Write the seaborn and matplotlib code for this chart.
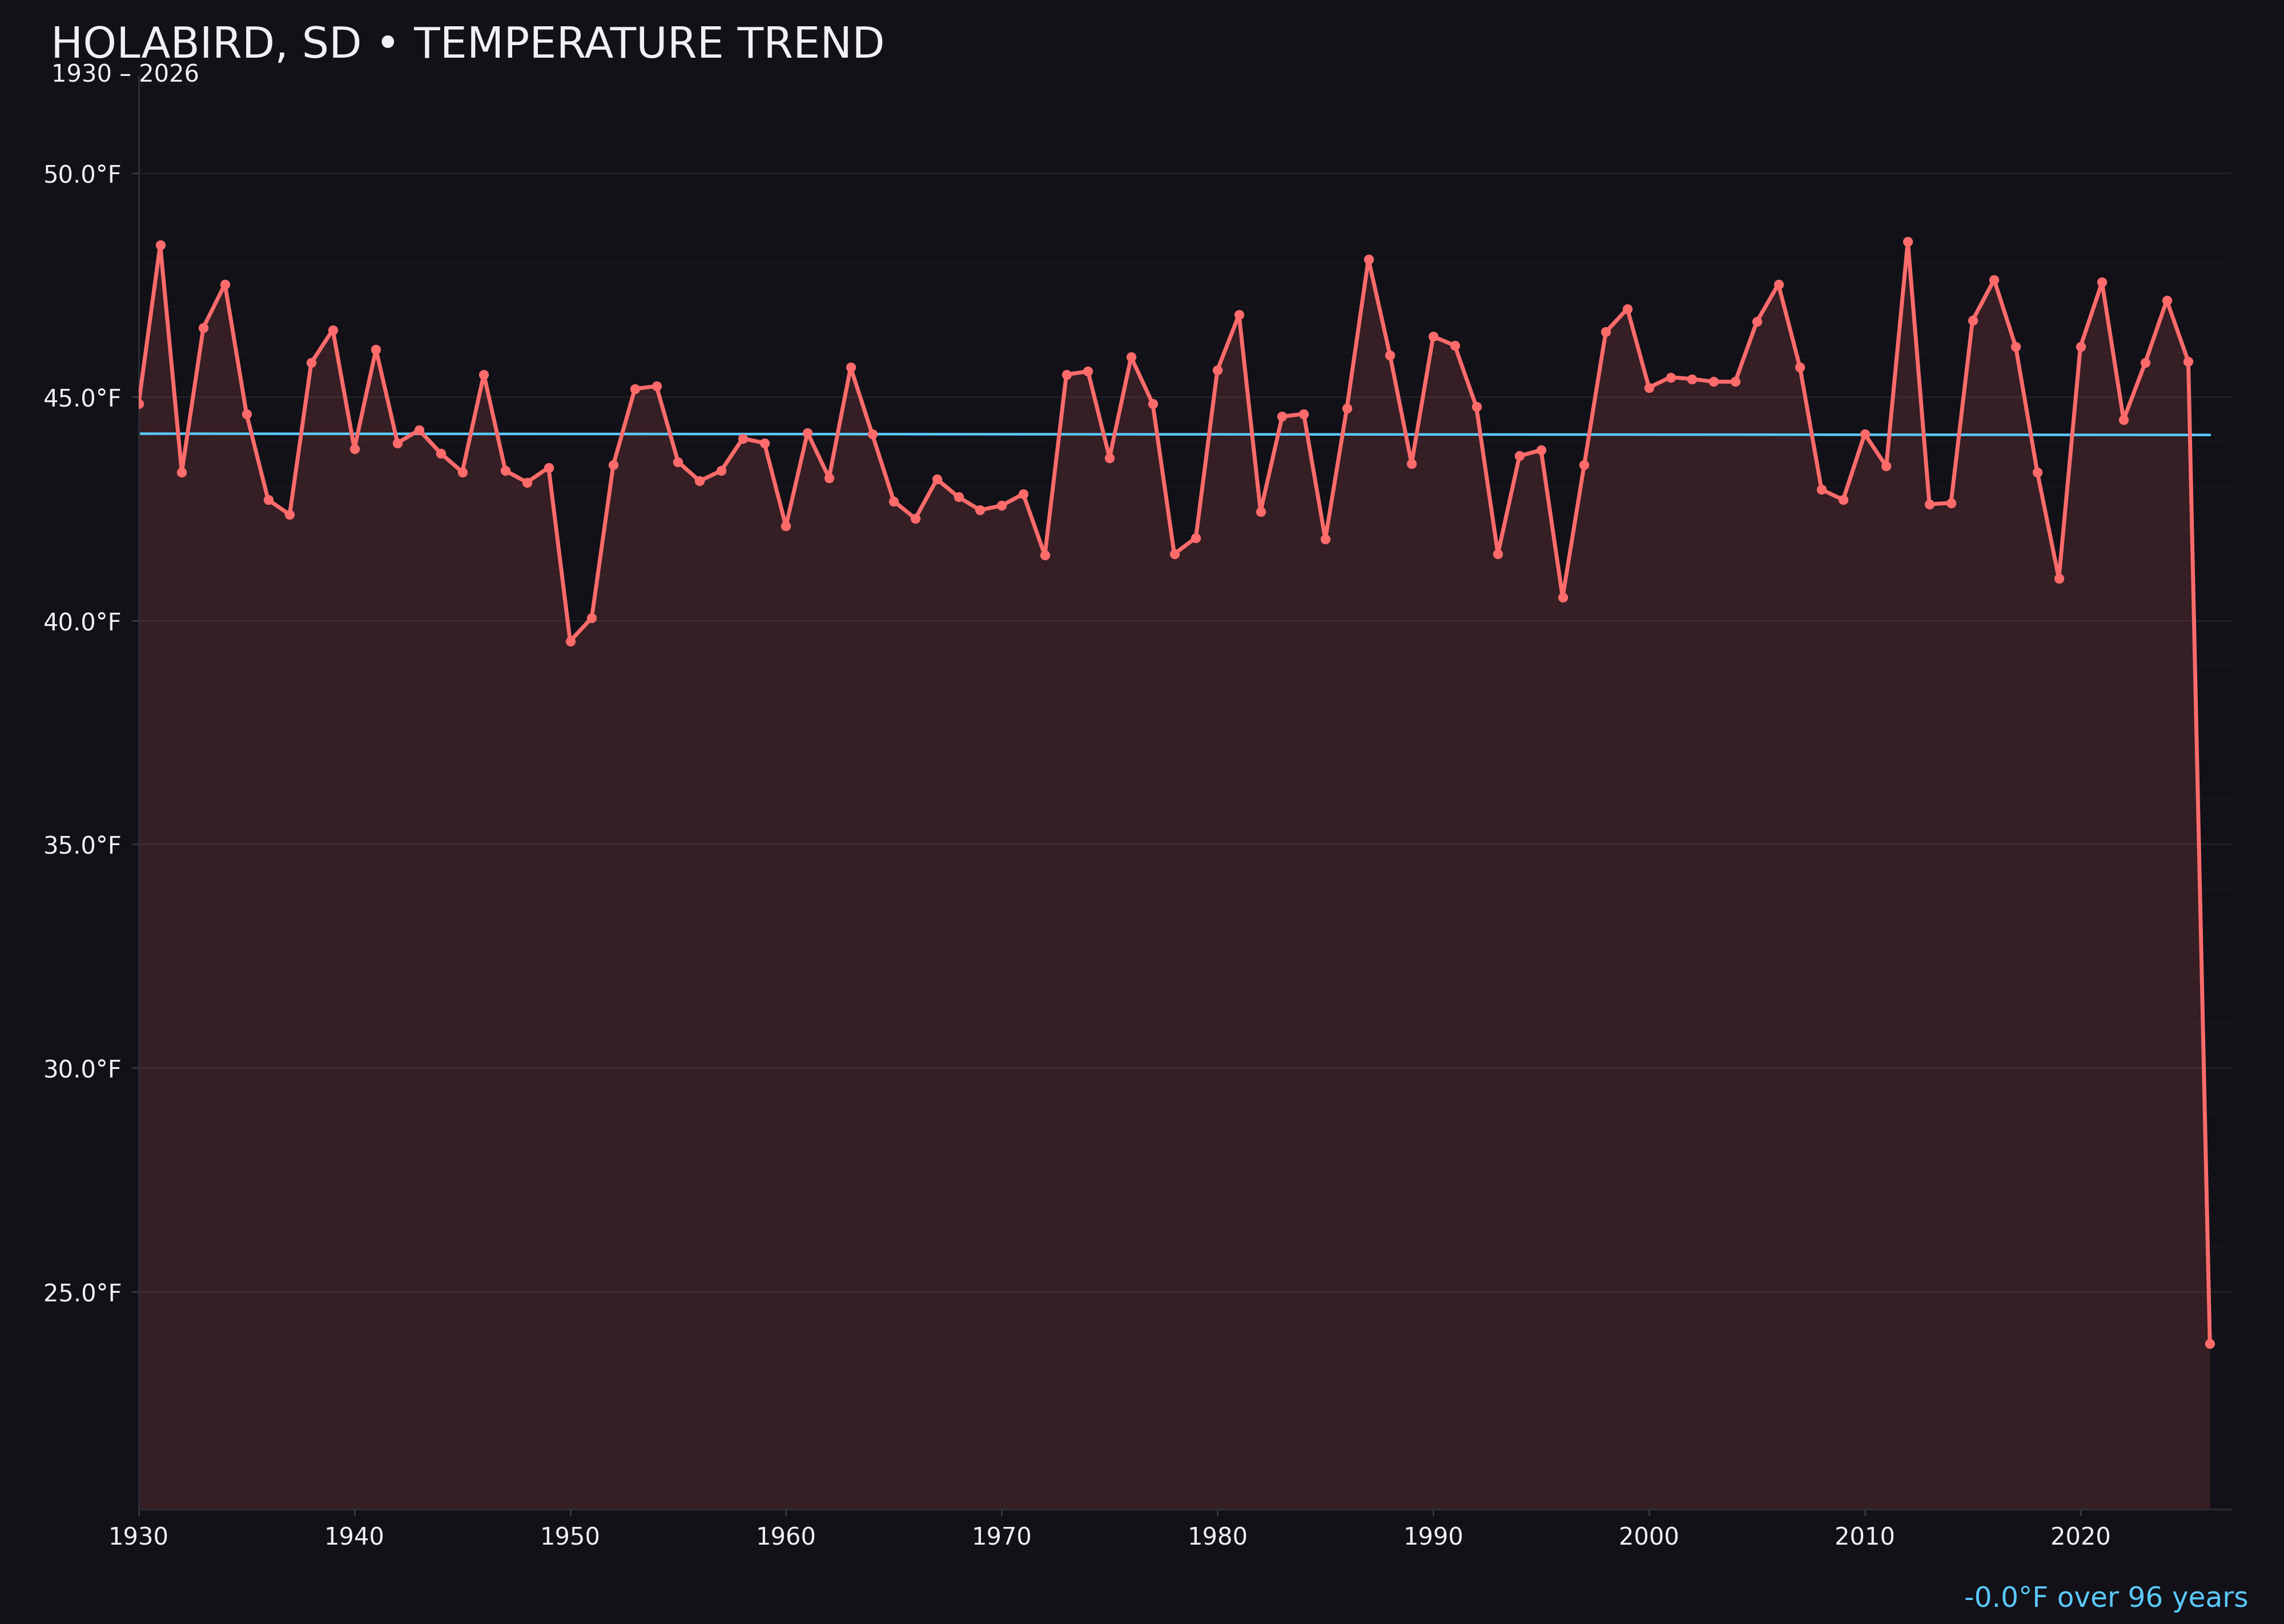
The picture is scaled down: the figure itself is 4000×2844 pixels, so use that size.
import matplotlib
matplotlib.use("Agg")
import matplotlib.pyplot as plt
import matplotlib.ticker as ticker
import seaborn as sns
import pandas as pd
import numpy as np

bg_color    = "#121118"
line_color  = "#ff6b6b"
trend_color = "#5ac8fa"
text_color  = "#f0f0f5"

years = list(range(1930, 2027))
temps = [44.85, 48.40, 43.32, 46.55, 47.52, 44.62, 42.70, 42.37, 45.76, 46.50,
         43.84, 46.06, 43.97, 44.26, 43.74, 43.32, 45.50, 43.35, 43.09, 43.42,
         39.54, 40.06, 43.48, 45.18, 45.24, 43.55, 43.12, 43.35, 44.07, 43.97,
         42.11, 44.20, 43.19, 45.66, 44.17, 42.67, 42.28, 43.16, 42.76, 42.47,
         42.57, 42.83, 41.46, 45.50, 45.57, 43.64, 45.89, 44.85, 41.49, 41.85,
         45.60, 46.84, 42.44, 44.56, 44.62, 41.82, 44.75, 48.08, 45.93, 43.51,
         46.35, 46.15, 44.78, 41.49, 43.68, 43.81, 40.52, 43.48, 46.45, 46.97,
         45.21, 45.44, 45.40, 45.34, 45.34, 46.68, 47.52, 45.66, 42.93, 42.70,
         44.17, 43.45, 48.47, 42.60, 42.63, 46.71, 47.62, 46.12, 43.32, 40.94,
         46.12, 47.56, 44.49, 45.76, 47.16, 45.79, 23.83]

df = pd.DataFrame({"Year": years, "Temp": temps})

sns.set_theme(style="dark", rc={
    "figure.facecolor": bg_color,
    "axes.facecolor": bg_color,
    "axes.edgecolor": "#2c2c35",
    "text.color": text_color,
    "xtick.color": "#3a3a44",
    "ytick.color": "#3a3a44",
    "xtick.labelcolor": text_color,
    "ytick.labelcolor": text_color,
})
plt.rcParams["font.family"] = ["DejaVu Sans"]

fig = plt.figure(figsize=(16, 11.376), dpi=250)
ax = fig.add_axes([0.0607, 0.0707, 0.9163, 0.8823])

# trend
slope, intercept = np.polyfit(df["Year"], df["Temp"], 1)
df["Trend"] = slope * df["Year"] + intercept
span = years[-1] - years[0]

rng = max(temps) - min(temps)
ymin = min(temps) - 0.15 * rng
ymax = max(temps) + 0.15 * rng

ax.fill_between(df["Year"], df["Temp"], ymin, color=line_color, alpha=0.15, linewidth=0, zorder=1)
sns.lineplot(data=df, x="Year", y="Temp", ax=ax, color=line_color, linewidth=2,
             marker="o", markersize=5, markeredgewidth=0, zorder=3)
sns.lineplot(data=df, x="Year", y="Trend", ax=ax, color=trend_color, linewidth=1.3, zorder=2)

ax.set_xlim(1930, 2027)
ax.set_ylim(ymin, ymax)
ax.set_xlabel("")
ax.set_ylabel("")

ax.xaxis.set_major_locator(ticker.MultipleLocator(10))
ax.yaxis.set_major_locator(ticker.MultipleLocator(5))
ax.yaxis.set_minor_locator(ticker.MultipleLocator(1))
ax.yaxis.set_major_formatter(ticker.FuncFormatter(lambda v, p: f"{v:.1f}°F"))
ax.tick_params(axis="both", which="major", length=3.5, width=0.8, labelsize=12, pad=5, bottom=True, left=True)
ax.tick_params(axis="y", which="minor", length=0)

ax.grid(True, axis="y", which="major", color="#212027", linewidth=0.8)
ax.grid(True, axis="y", which="minor", color="#17161d", linewidth=0.6)
ax.grid(False, axis="x")

for side in ["top", "right"]:
    ax.spines[side].set_visible(False)
for side in ["left", "bottom"]:
    ax.spines[side].set_color("#2c2c35")
    ax.spines[side].set_linewidth(0.9)

fig.text(0.0223, 0.9645, "HOLABIRD, SD • TEMPERATURE TREND", fontsize=21.5, color=text_color, ha="left", va="baseline")
fig.text(0.0225, 0.9497, f"{years[0]} – {years[-1]}", fontsize=12, color=text_color, ha="left", va="baseline")
fig.text(0.9845, 0.0105, f"{slope * span:.1f}°F over {span} years", fontsize=14, color=trend_color,
         ha="right", va="baseline")

fig.savefig("out.png", dpi=250, facecolor=bg_color)
